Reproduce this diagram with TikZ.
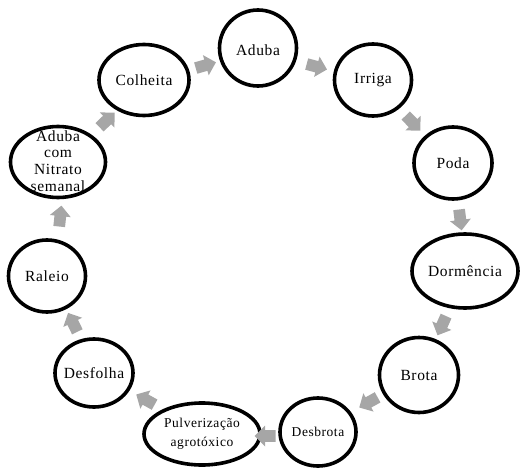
\documentclass[tikz,border=0pt]{standalone}
\usepackage{fontspec}
\setmainfont{Liberation Serif}[LetterSpace=4]
\usetikzlibrary{shapes.geometric,shapes.arrows}
\definecolor{arrgray}{HTML}{A6A6A6}
\tikzset{
  stage/.style={ellipse,draw=black,line width=3.6pt,fill=white,inner sep=0pt},
  lbl/.style={align=center,inner sep=0pt,font=\fontsize{15.5}{16.8}\selectfont},
  lblsmall/.style={align=center,inner sep=0pt,font=\fontsize{13.5}{19.5}\selectfont},
  blockarrow/.style={single arrow,fill=arrgray,draw=none,inner sep=5.5pt,
    minimum height=21pt,minimum width=21pt,single arrow head extend=4.5pt}
}
\begin{document}
\begin{tikzpicture}[x=1pt,y=-1pt]
\useasboundingbox (0,0) rectangle (521,468);
% stages
\node[stage,minimum width=77pt,minimum height=76pt] (aduba) at (258,48) {};
\node[stage,minimum width=77pt,minimum height=72pt] (irriga) at (373,80) {};
\node[stage,minimum width=78pt,minimum height=72pt] (poda) at (453,163) {};
\node[stage,minimum width=106pt,minimum height=74pt] (dorm) at (465,271) {};
\node[stage,minimum width=79pt,minimum height=75pt] (brota) at (419,375) {};
\node[stage,minimum width=76pt,minimum height=68pt] (desbrota) at (318,432) {};
\node[stage,minimum width=116pt,minimum height=62pt] (pulv) at (202,434) {};
\node[stage,minimum width=78pt,minimum height=68pt] (desfolha) at (94,373) {};
\node[stage,minimum width=77pt,minimum height=72pt] (raleio) at (47,276) {};
\node[stage,minimum width=95pt,minimum height=71pt] (nitrato) at (58,162) {};
\node[stage,minimum width=90pt,minimum height=71pt] (colheita) at (144,80) {};
% texts
\node[lbl] (taduba) at ([yshift=-2pt]aduba.center) {Aduba};
\node[lbl] (tirriga) at (irriga) {Irriga};
\node[lbl] (tpoda) at (poda) {Poda};
\node[lbl] (tdorm) at (dorm) {Dormência};
\node[lbl] (tbrota) at (brota) {Brota};
\node[lbl,font=\fontsize{13.5}{16}\selectfont] (tdesbrota) at (desbrota) {Desbrota};
\node[lblsmall] (tpulv) at (pulv) {Pulverização\\agrotóxico};
\node[lbl] (tdesfolha) at (desfolha) {Desfolha};
\node[lbl] (traleio) at (raleio) {Raleio};
\node[lbl] (tnitrato) at ([yshift=1pt]nitrato.center) {Aduba\\com\\Nitrato\\semanal};
\node[lbl] (tcolheita) at (colheita) {Colheita};
% arrows
\node[blockarrow,rotate=16] (a1) at (203,66) {};
\node[blockarrow,rotate=-15] (a2) at (314,66) {};
\node[blockarrow,rotate=-46] (a3) at (411,121) {};
\node[blockarrow,rotate=-83] (a4) at (460,217) {};
\node[blockarrow,rotate=-114] (a5) at (443,323) {};
\node[blockarrow,rotate=-151] (a6) at (371,401) {};
\node[blockarrow,rotate=180] (a7) at (268,436) {};
\node[blockarrow,rotate=151] (a8) at (148,401) {};
\node[blockarrow,rotate=116] (a9) at (74,325) {};
\node[blockarrow,rotate=84] (a10) at (60,219) {};
\node[blockarrow,rotate=44] (a11) at (105,122) {};
\end{tikzpicture}
\end{document}
